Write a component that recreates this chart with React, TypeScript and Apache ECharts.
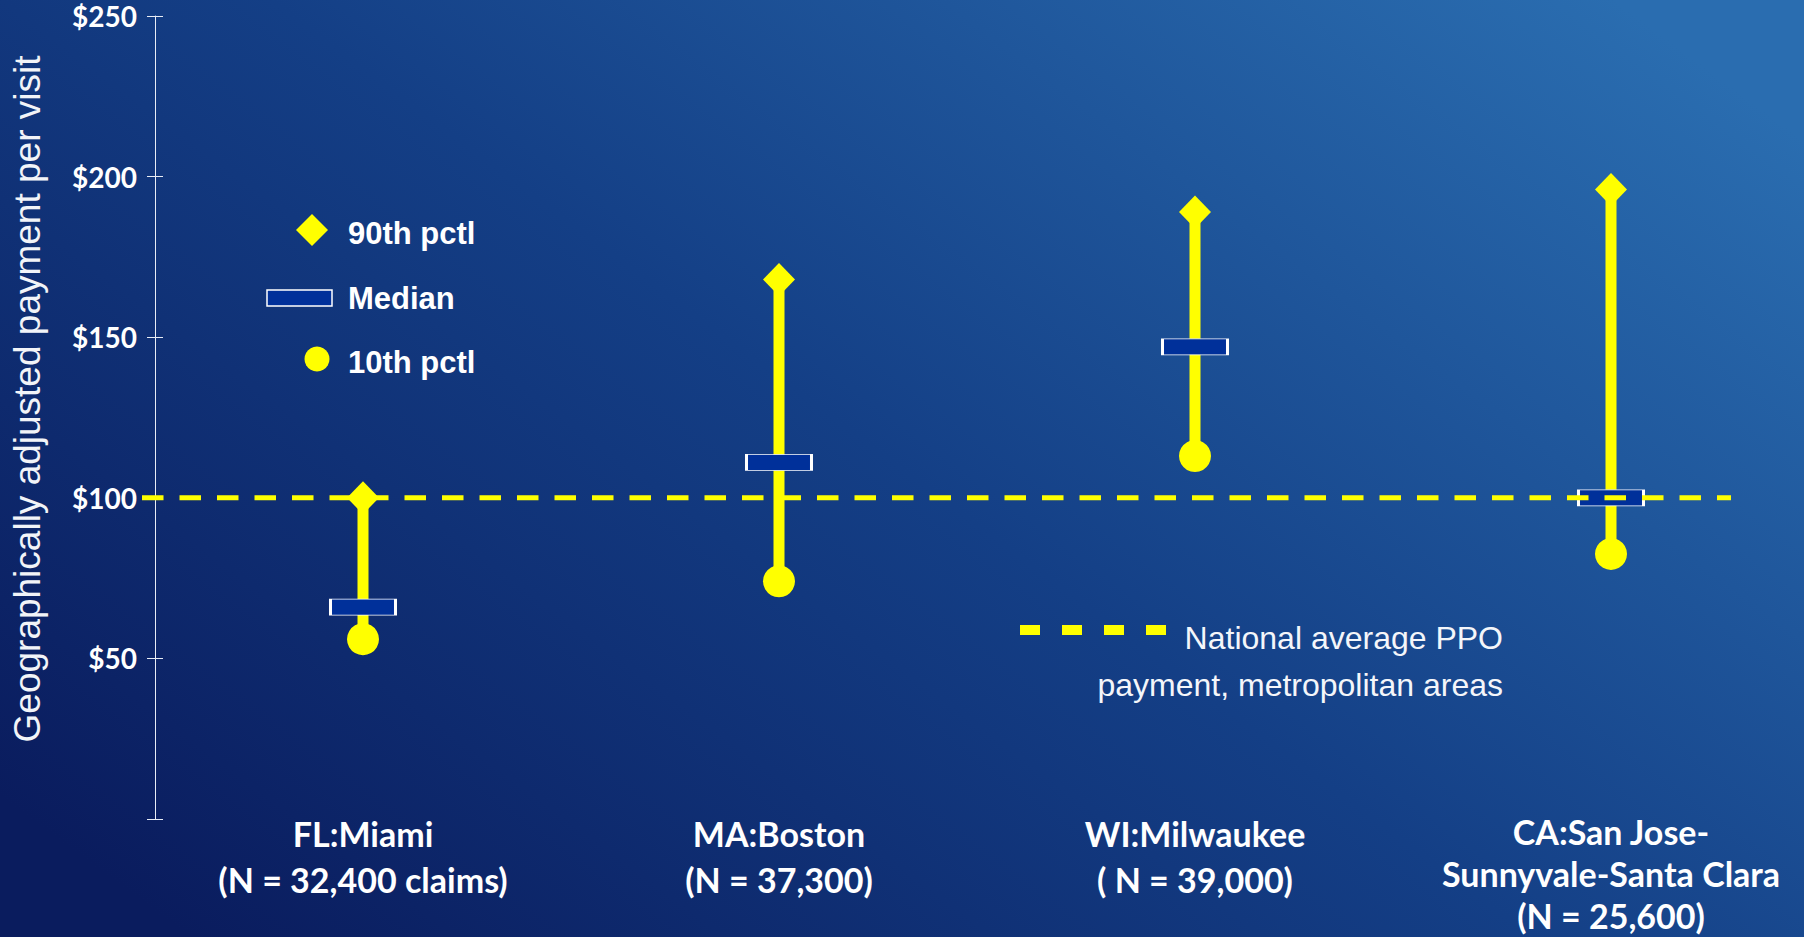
import React, { useEffect, useRef } from "react";
import * as echarts from "echarts";

// ---- data ----
const categories = [
  "FL:Miami\n(N = 32,400 claims)",
  "MA:Boston\n(N = 37,300)",
  "WI:Milwaukee\n( N = 39,000)",
  "CA:San Jose-\nSunnyvale-Santa Clara\n(N = 25,600)",
];
const pct90 = [100, 168, 189, 196];
const medians = [66, 111, 147, 100];
const pct10 = [56, 74, 113, 82.5];
const nationalAverage = 100;
const yMin = 0;
const yMax = 250;
const yStep = 50;

const YELLOW = "#ffff00";
const MEDIAN_FILL = "#00309a";
const WHITE = "#ffffff";

export default function App() {
  const ref = useRef<HTMLDivElement>(null);

  useEffect(() => {
    document.body.style.margin = "0";
    const chart = echarts.init(ref.current!, undefined, { renderer: "svg" });

    const stemData = categories.map((_, i) => [i, pct10[i], pct90[i]]);
    // three-line labels get a slightly tighter line height so they fit the page
    const categoryItems = categories.map((c) =>
      c.split("\n").length > 2 ? { value: c, textStyle: { lineHeight: 42 } } : c
    );

    const option: any = {
      animation: false,
      backgroundColor: new echarts.graphic.LinearGradient(0, 0.85, 1, 0.15, [
        { offset: 0, color: "#0a1c5e" },
        { offset: 0.5, color: "#143f86" },
        { offset: 1, color: "#2a6db0" },
      ]),
      grid: {
        left: 155,
        top: 16,
        width: 1664,
        bottom: 118,
        containLabel: false,
        outerBoundsMode: "none",
      },
      xAxis: {
        type: "category",
        data: categoryItems,
        boundaryGap: true,
        axisLine: { show: false },
        axisTick: { show: false },
        splitLine: { show: false },
        axisLabel: {
          interval: 0,
          color: WHITE,
          fontFamily: "Lato",
          fontWeight: "bold",
          fontSize: 34,
          lineHeight: 46,
          verticalAlign: "top",
          margin: -9,
        },
      },
      yAxis: [
        {
          type: "value",
          position: "left",
          min: yMin,
          max: yMax,
          interval: yStep,
          axisLine: { show: true, lineStyle: { color: "#e8ecf5", width: 1 } },
          axisTick: { show: true, inside: false, length: 8, lineStyle: { color: "#e8ecf5", width: 1 } },
          splitLine: { show: false },
          axisLabel: {
            color: WHITE,
            fontFamily: "Lato",
            fontWeight: "bold",
            fontSize: 28,
            margin: 18,
            padding: [10, 0, 0, 0],
            formatter: (v: number) => (v === 0 ? "" : "$" + v),
          },
        },
        {
          type: "value",
          position: "left",
          min: yMin,
          max: yMax,
          interval: yStep,
          axisLine: { show: false },
          axisTick: { show: true, inside: true, length: 8, lineStyle: { color: "#e8ecf5", width: 1 } },
          axisLabel: { show: false },
          splitLine: { show: false },
        },
      ],
      series: [
        {
          name: "range",
          type: "custom",
          z: 1,
          data: stemData,
          encode: { x: 0, y: [1, 2] },
          renderItem: (params: any, api: any) => {
            const x = api.value(0);
            const lo = api.coord([x, api.value(1)]);
            const hi = api.coord([x, api.value(2)]);
            return {
              type: "line",
              shape: { x1: lo[0], y1: lo[1], x2: hi[0], y2: hi[1] },
              style: { stroke: YELLOW, lineWidth: 11 },
            };
          },
        },
        {
          name: "90th pctl",
          type: "scatter",
          z: 2,
          symbol: "diamond",
          symbolSize: [32, 33],
          itemStyle: { color: YELLOW, opacity: 1 },
          data: pct90,
        },
        {
          name: "10th pctl",
          type: "scatter",
          z: 2,
          symbol: "circle",
          symbolSize: 32,
          itemStyle: { color: YELLOW, opacity: 1 },
          data: pct10,
        },
        {
          name: "Median",
          type: "scatter",
          z: 3,
          symbol: "rect",
          symbolSize: [65, 16],
          itemStyle: { color: MEDIAN_FILL, borderColor: WHITE, borderWidth: 1.5, opacity: 1 },
          data: medians,
        },
        {
          name: "National average",
          type: "custom",
          z: 4,
          data: [[0, nationalAverage]],
          encode: { x: 0, y: 1 },
          renderItem: (params: any, api: any) => {
            const y = api.coord([0, api.value(1)])[1];
            return {
              type: "line",
              shape: { x1: 142, y1: y, x2: 1731, y2: y },
              style: { stroke: YELLOW, lineWidth: 5, lineDash: [21.5, 16] },
            };
          },
        },
      ],
      graphic: [
        {
          type: "text",
          x: 27,
          y: 399,
          rotation: Math.PI / 2,
          style: {
            text: "Geographically adjusted payment per visit",
            fill: "#f2f4f8",
            font: "37px 'Liberation Sans', Arial, sans-serif",
            align: "center",
            verticalAlign: "middle",
          },
        },
        // legend: 90th pctl
        {
          type: "polygon",
          shape: { points: [[312, 214], [328, 230], [312, 246], [296, 230]] },
          style: { fill: YELLOW },
        },
        {
          type: "text",
          x: 348,
          y: 233,
          style: {
            text: "90th pctl",
            fill: WHITE,
            font: "bold 31px 'Liberation Sans', Arial, sans-serif",
            verticalAlign: "middle",
          },
        },
        // legend: Median
        {
          type: "rect",
          shape: { x: 267, y: 290, width: 65, height: 16 },
          style: { fill: MEDIAN_FILL, stroke: WHITE, lineWidth: 1.5 },
        },
        {
          type: "text",
          x: 348,
          y: 298,
          style: {
            text: "Median",
            fill: WHITE,
            font: "bold 31px 'Liberation Sans', Arial, sans-serif",
            verticalAlign: "middle",
          },
        },
        // legend: 10th pctl
        {
          type: "circle",
          shape: { cx: 317, cy: 359, r: 12.5 },
          style: { fill: YELLOW },
        },
        {
          type: "text",
          x: 348,
          y: 362,
          style: {
            text: "10th pctl",
            fill: WHITE,
            font: "bold 31px 'Liberation Sans', Arial, sans-serif",
            verticalAlign: "middle",
          },
        },
        // national average legend
        {
          type: "line",
          shape: { x1: 1020, y1: 630, x2: 1166, y2: 630 },
          style: { stroke: YELLOW, lineWidth: 10, lineDash: [20, 22] },
        },
        {
          type: "text",
          x: 1503,
          y: 614,
          style: {
            text: "National average PPO\npayment, metropolitan areas",
            fill: "#f4f6fa",
            font: "32px 'Liberation Sans', Arial, sans-serif",
            lineHeight: 47,
            align: "right",
            verticalAlign: "top",
          },
        },
      ],
    };

    chart.setOption(option);
    return () => chart.dispose();
  }, []);

  return <div ref={ref} style={{ width: 1804, height: 937 }} />;
}
